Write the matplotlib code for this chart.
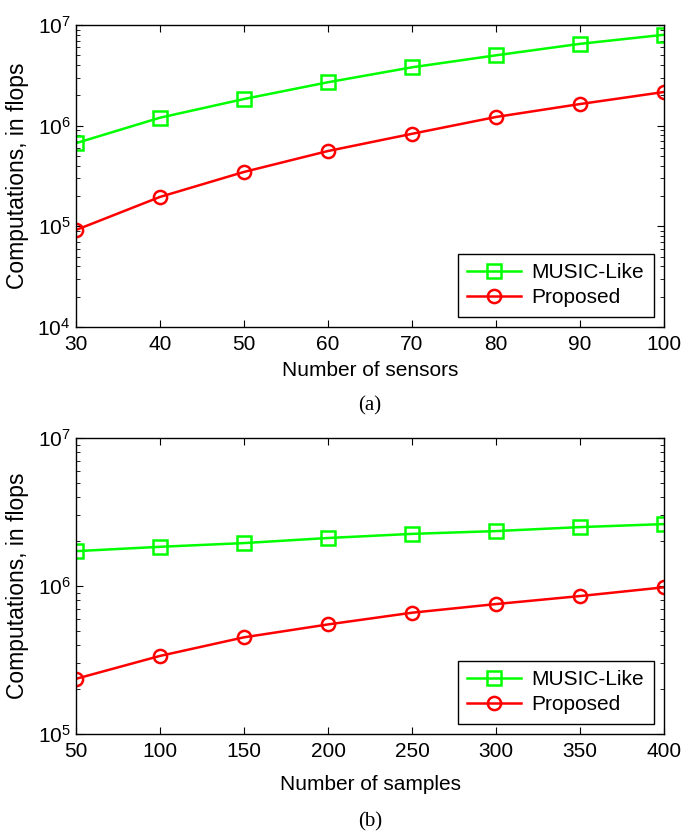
import matplotlib
matplotlib.use("Agg")
import matplotlib.pyplot as plt
from matplotlib.ticker import LogLocator, NullFormatter

plt.rcParams['font.family'] = ['Liberation Sans', 'DejaVu Sans']

sensors = [30, 40, 50, 60, 70, 80, 90, 100]
music_a = [6.7e5, 1.2e6, 1.84e6, 2.7e6, 3.8e6, 5.0e6, 6.5e6, 8.0e6]
prop_a = [9.2e4, 1.96e5, 3.47e5, 5.6e5, 8.3e5, 1.22e6, 1.64e6, 2.16e6]

samples = [50, 100, 150, 200, 250, 300, 350, 400]
music_b = [1.72e6, 1.84e6, 1.95e6, 2.11e6, 2.25e6, 2.35e6, 2.5e6, 2.62e6]
prop_b = [2.36e5, 3.37e5, 4.5e5, 5.5e5, 6.6e5, 7.55e5, 8.55e5, 9.8e5]

W, H = 684, 836
fig = plt.figure(figsize=(W / 100, H / 100), dpi=100)

def make_ax(left, top, right, bottom):
    return fig.add_axes([left / W, 1 - bottom / H, (right - left) / W, (bottom - top) / H])

ax1 = make_ax(76, 25, 664, 327)
ax2 = make_ax(76, 438, 664, 734)

fs = 15

def style(ax, x, m, p, xlabel, ylim, caption, xlab_y, cap_y, top, bottom):
    ax.plot(x, m, color='#00ff00', lw=1.8, marker='s', ms=9.5, mfc='none', mew=1.8, label='MUSIC-Like')
    ax.plot(x, p, color='#ff0000', lw=1.8, marker='o', ms=9.5, mfc='none', mew=1.8, label='Proposed')
    ax.set_yscale('log')
    ax.set_ylim(*ylim)
    ax.set_xlim(x[0], x[-1])
    ax.set_xticks(x)
    ax.yaxis.set_major_locator(LogLocator(base=10, numticks=10))
    ax.yaxis.set_minor_locator(LogLocator(base=10, subs=range(2, 10), numticks=20))
    ax.yaxis.set_minor_formatter(NullFormatter())
    ax.tick_params(which='both', direction='in', top=True, right=True, labelsize=fs)
    ax.tick_params(which='major', length=5)
    ax.tick_params(axis='x', which='major', pad=6)
    ax.tick_params(axis='y', which='major', pad=4)
    ax.tick_params(which='minor', length=3)
    for s in ax.spines.values():
        s.set_linewidth(1.0)
    h = bottom - top
    ax.set_xlabel(xlabel, fontsize=fs)
    ax.xaxis.set_label_coords(0.5, -(xlab_y - bottom) / h)
    ax.xaxis.label.set_va('center')
    ax.set_ylabel('Computations, in flops', fontsize=16.5)
    ax.yaxis.set_label_coords((18 - 76) / 588, 0.5)
    ax.yaxis.label.set_va('center')
    leg = ax.legend(loc='lower right', fontsize=fs, fancybox=False, edgecolor='black',
                    framealpha=1, borderaxespad=0.5, handlelength=2.6, labelspacing=0.3,
                    borderpad=0.45, handletextpad=0.5)
    leg.get_frame().set_linewidth(1.0)
    fig.text(0.5 * (76 + 664) / W, 1 - cap_y / H, caption, ha='center', va='center',
             fontsize=fs, family=['Liberation Serif', 'DejaVu Serif'])

style(ax1, sensors, music_a, prop_a, 'Number of sensors', (1e4, 1e7), '(a)', 371, 406, 25, 327)
style(ax2, samples, music_b, prop_b, 'Number of samples', (1e5, 1e7), '(b)', 785, 822, 438, 734)

fig.savefig('out.png', dpi=100)
